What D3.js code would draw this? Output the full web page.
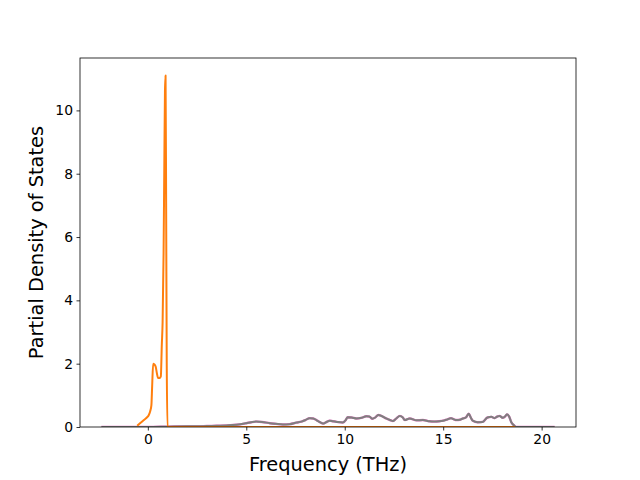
<!DOCTYPE html>
<html><head><meta charset="utf-8">
<script src="https://cdn.jsdelivr.net/npm/d3@7"></script>
<style>body{margin:0;background:#fff}svg{display:block}text{font-family:"DejaVu Sans",sans-serif;fill:#000}</style>
</head><body>
<svg id="c" width="640" height="480"></svg>
<script>
// Spike series (orange)
const spikeX = [-0.5,-0.35,-0.2,-0.05,0.05,0.12,0.18,0.22,0.27,0.33,0.4,0.46,0.52,0.6,0.66,0.71,0.75,0.8,0.84,0.87,0.9,0.93,0.96,1.0,1.3,3,6,9,12,15,18.6];
const spikeY = [0.06,0.14,0.22,0.3,0.38,0.5,0.68,1.3,2.0,1.98,1.9,1.7,1.55,1.55,1.6,2.6,3.3,5.5,8.5,10.6,11.1,7.0,2.0,0.0,0,0,0,0,0,0,0];
// Broad series (gray)
const broadX = [-2.3,-1,0,1,2,2.5,3,3.5,4,4.5,5,5.25,5.5,5.8,6.2,6.5,6.86,7.2,7.55,7.8,8.0,8.22,8.4,8.56,8.75,8.9,9.05,9.24,9.4,9.6,9.9,10.05,10.15,10.35,10.6,10.85,11.1,11.25,11.4,11.55,11.7,11.9,12.1,12.3,12.45,12.6,12.8,12.95,13.05,13.3,13.64,13.97,14.3,14.55,14.8,15.0,15.16,15.4,15.55,15.67,15.85,16.0,16.15,16.3,16.4,16.5,16.75,17.0,17.25,17.45,17.6,17.75,17.86,18.03,18.14,18.24,18.35,18.46,18.6,18.7,19,20,20.6];
const broadY = [0,0,0,0.01,0.02,0.02,0.03,0.04,0.05,0.07,0.12,0.15,0.17,0.16,0.12,0.1,0.08,0.09,0.14,0.17,0.22,0.28,0.27,0.22,0.15,0.11,0.15,0.2,0.18,0.16,0.14,0.22,0.31,0.3,0.27,0.29,0.34,0.33,0.26,0.3,0.38,0.34,0.27,0.22,0.19,0.26,0.35,0.3,0.22,0.27,0.21,0.22,0.18,0.17,0.18,0.2,0.23,0.28,0.24,0.22,0.23,0.27,0.3,0.42,0.3,0.2,0.15,0.16,0.3,0.32,0.28,0.33,0.35,0.29,0.33,0.4,0.33,0.15,0.05,0,0,0,0];
const xTicks = [0,5,10,15,20];
const yTicks = [0,2,4,6,8,10];

const svg = d3.select("#c");
const m = {l:80, r:576, t:58, b:427};
const x = d3.scaleLinear().domain([-3.445, 21.745]).range([m.l, m.r]);
const y = d3.scaleLinear().domain([0, 11.655]).range([m.b, m.t]);

const g = svg.append("g");
g.append("defs").append("clipPath").attr("id","clip").append("rect")
  .attr("x",m.l).attr("y",m.t).attr("width",m.r-m.l).attr("height",m.b-m.t);
const plot = g.append("g").attr("clip-path","url(#clip)");

const line = d3.line().x(d=>x(d[0])).y(d=>y(d[1])).curve(d3.curveMonotoneX);
const broad = broadX.map((v,i)=>[v,broadY[i]]);
const spike = spikeX.map((v,i)=>[v,spikeY[i]]);
const series = [
  {d:broad, c:"#e377c2", w:2.4},
  {d:broad, c:"#7f7f7f", w:2},
  {d:spike, c:"#ff7f0e", w:2}
];
series.forEach(s=>{
  plot.append("path").attr("d",line(s.d)).attr("fill","none")
    .attr("stroke",s.c).attr("stroke-width",s.w)
    .attr("stroke-linejoin","round").attr("stroke-linecap","square");
});

// axes
const xa = d3.axisBottom(x).tickValues(xTicks).tickSize(3.5).tickPadding(3.5).tickFormat(d3.format("d"));
const ya = d3.axisLeft(y).tickValues(yTicks).tickSize(3.5).tickPadding(3.5).tickFormat(d3.format("d"));
const gx = svg.append("g").attr("transform",`translate(0,${m.b})`).call(xa);
const gy = svg.append("g").attr("transform",`translate(${m.l},0)`).call(ya);
[gx,gy].forEach(a=>{
  a.select(".domain").remove();
  a.selectAll(".tick line").attr("stroke","#000").attr("stroke-width",0.8);
  a.selectAll(".tick text").attr("font-size","13.9px").attr("font-family","DejaVu Sans").attr("fill","#000");
});
svg.append("rect").attr("x",m.l).attr("y",m.t).attr("width",m.r-m.l).attr("height",m.b-m.t)
  .attr("fill","none").attr("stroke","#000").attr("stroke-width",0.8);

svg.append("text").attr("x",(m.l+m.r)/2).attr("y",471).attr("text-anchor","middle")
  .attr("font-size","19.4px").text("Frequency (THz)");
svg.append("text").attr("transform",`translate(43,${(m.t+m.b)/2}) rotate(-90)`).attr("text-anchor","middle")
  .attr("font-size","19.4px").text("Partial Density of States");
</script>
</body></html>
